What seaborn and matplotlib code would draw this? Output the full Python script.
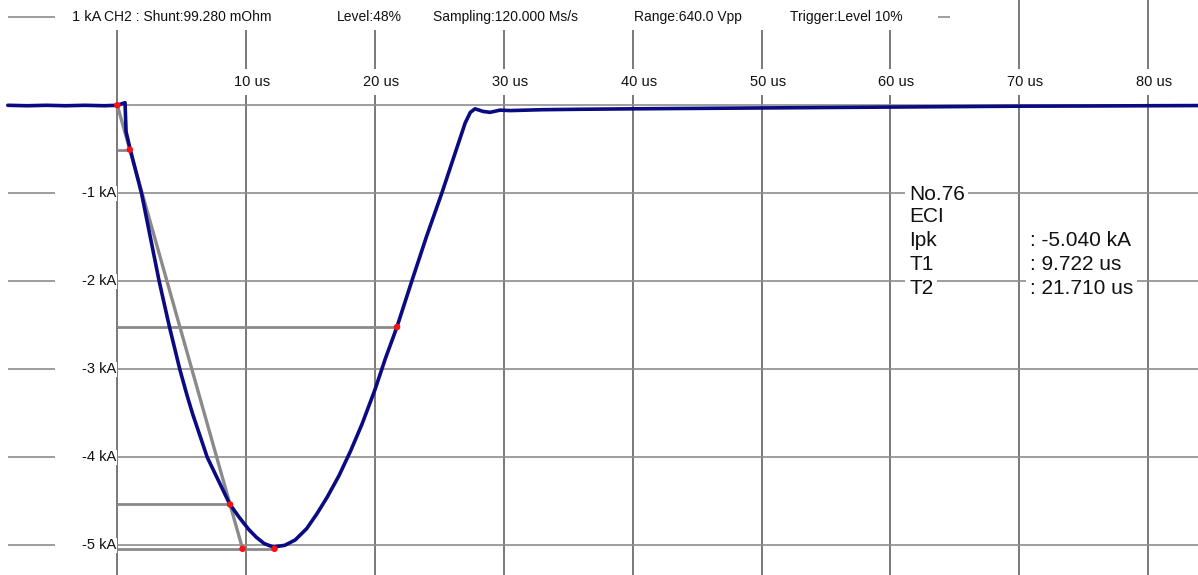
import matplotlib
matplotlib.use("Agg")
import matplotlib.pyplot as plt
import seaborn as sns
import pandas as pd
from matplotlib.patches import Rectangle

# ---------------- data ----------------
time_us = [-8.5, -7.0, -5.5, -4.0, -2.5, -1.0, 0.0, 0.6, 0.68, 1.0, 1.88, 3.25, 4.05,
           4.85, 5.42, 5.83, 6.98, 8.72, 9.45, 10.2, 10.8, 11.4, 12.1, 13.0, 13.8,
           14.7, 15.5, 16.3, 17.2, 18.1, 19.0, 20.0, 20.8, 21.7, 22.85, 24.0, 25.18,
           26.34, 27.0, 27.4, 27.76, 28.4, 28.93, 29.7, 30.5, 33.0, 36.0, 40.0,
           45.0, 50.0, 55.0, 60.0, 65.0, 70.0, 75.0, 80.0, 83.9]
current_ka = [0.0, -0.005, 0.0, -0.005, 0.0, -0.005, 0.0, 0.03, -0.30, -0.50, -1.00,
              -2.00, -2.52, -3.00, -3.30, -3.50, -4.00, -4.53, -4.68, -4.82, -4.91,
              -4.98, -5.02, -5.00, -4.94, -4.81, -4.64, -4.45, -4.21, -3.93, -3.62,
              -3.23, -2.88, -2.52, -2.00, -1.49, -1.00, -0.49, -0.20, -0.08, -0.04,
              -0.07, -0.08, -0.055, -0.06, -0.05, -0.045, -0.04, -0.035, -0.03,
              -0.025, -0.02, -0.015, -0.01, -0.008, -0.005, -0.003]

x_ticks = [10, 20, 30, 40, 50, 60, 70, 80]
x_tick_labels = ["10 us", "20 us", "30 us", "40 us", "50 us", "60 us", "70 us", "80 us"]
y_ticks = [1, -1, -2, -3, -4, -5]
y_tick_labels = ["1 kA", "-1 kA", "-2 kA", "-3 kA", "-4 kA", "-5 kA"]

level_ka = [-0.504, -2.520, -4.536, -5.040]
level_end_us = [0.97, 21.71, 8.75, 12.2]
front_t = [0.0, 9.722]
front_i = [0.0, -5.040]
marker_t = [0.0, 0.97, 8.75, 9.722, 12.2, 21.71]
marker_i = [0.0, -0.504, -4.536, -5.040, -5.040, -2.520]

title_parts = ["CH2 : Shunt:99.280 mOhm", "Level:48%", "Sampling:120.000 Ms/s",
               "Range:640.0 Vpp", "Trigger:Level 10%"]
info_labels = ["No.76", "ECI", "Ipk", "T1", "T2"]
info_values = [": -5.040 kA", ": 9.722 us", ": 21.710 us"]

# ---------------- layout ----------------
W, H = 1198, 575
X0, PXU = 117.3, 12.885     # pixel of 0 us, pixels per us
Y0, PYK = 105.3, 88.0       # pixel of 0 kA, pixels per kA


def px_t(px):
    return (px - X0) / PXU


def py_i(py):
    return (Y0 - py) / PYK


sns.set_theme(style="white")
plt.rcParams["font.family"] = ["Liberation Sans", "DejaVu Sans"]

fig = plt.figure(figsize=(W / 100, H / 100), dpi=100)
ax = fig.add_axes([0, 0, 1, 1])
ax.set_xlim(px_t(0), px_t(W))
ax.set_ylim(py_i(H), py_i(0))
ax.axis("off")

vcol = "#555555"
hcol = "#8e8e8e"

# vertical grid
for t in [0] + x_ticks:
    ax.axvline(t, color=vcol, lw=1.1, zorder=1)
# horizontal grid
ax.hlines(0, px_t(8), px_t(W), color=hcol, lw=1.2, zorder=1)
for y in y_ticks:
    ax.hlines(y, px_t(8), px_t(55), color=hcol, lw=1.2, zorder=1)
    end = px_t(950) if y > 0 else px_t(W)
    ax.hlines(y, 0, end, color=hcol, lw=1.2, zorder=1)

# tick labels
for t, lab in zip(x_ticks, x_tick_labels):
    ax.text(t - 12 / PXU, py_i(82), lab, ha="left", va="center", fontsize=10.5,
            color="#111111", zorder=2,
            bbox=dict(fc="white", ec="none", pad=4))
for y, lab in zip(y_ticks, y_tick_labels):
    xr = px_t(101) if y > 0 else px_t(116)
    ax.text(xr, y, lab, ha="right", va="center", fontsize=10.5,
            color="#111111", zorder=2,
            bbox=dict(fc="white", ec="none", pad=0.5))

# title band
ax.add_patch(Rectangle((103 / W, 1 - 30 / H), 835 / W, 30 / H, transform=fig.transFigure,
                       fc="white", ec="none", zorder=2.5))
title_x = [104, 337, 433, 634, 790]
for px, part in zip(title_x, title_parts):
    fig.text(px / W, 1 - 17 / H, part, ha="left", va="center", fontsize=10,
             color="#111111", zorder=3)

# construction lines
gcol = "#8a8a8a"
for lv, te in zip(level_ka, level_end_us):
    ax.hlines(lv, 0, te, color=gcol, lw=2.0, zorder=3)
front = pd.DataFrame({"t": front_t, "i": front_i})
sns.lineplot(data=front, x="t", y="i", color=gcol, lw=2.4, ax=ax, zorder=3,
             estimator=None)

# waveform
wave = pd.DataFrame({"t": time_us, "i": current_ka})
sns.lineplot(data=wave, x="t", y="i", color="#0a0a82", lw=2.6, ax=ax, zorder=4,
             estimator=None, sort=False)

# red markers
marks = pd.DataFrame({"t": marker_t, "i": marker_i})
sns.scatterplot(data=marks, x="t", y="i", color="#ff1010", s=22, edgecolor="none",
                ax=ax, zorder=5)

# info block
info_y = [194, 217, 241, 265, 289]
for py, lab in zip(info_y, info_labels):
    ax.text(px_t(909), py_i(py), lab, ha="left", va="center", fontsize=15,
            color="#111111", zorder=6, bbox=dict(fc="white", ec="none", pad=2.5))
for py, val in zip(info_y[2:], info_values):
    ax.text(px_t(1030), py_i(py), val, ha="left", va="center", fontsize=15,
            color="#111111", zorder=6, bbox=dict(fc="white", ec="none", pad=2.5))

ax.set_xlim(px_t(0), px_t(W))
ax.set_ylim(py_i(H), py_i(0))
ax.set_xlabel("")
ax.set_ylabel("")
fig.savefig("out.png", dpi=100)
